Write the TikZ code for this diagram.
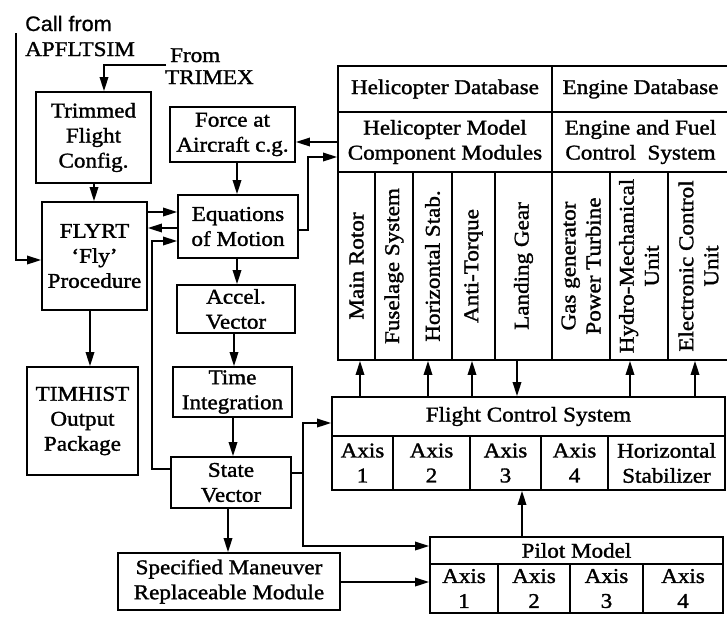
\documentclass[tikz,border=0pt]{standalone}
\usepackage{fontspec}
\setmainfont{Liberation Serif}[FakeStretch=1.1,FakeBold=1.4]
\newfontfamily\callfont{Liberation Sans}[FakeStretch=1.03,FakeBold=0.8]
\usetikzlibrary{arrows.meta}
\begin{document}
\begin{tikzpicture}[x=1pt,y=-1pt,
  txt/.style={font=\fontsize{21}{25}\selectfont},
  blk/.style={txt, draw, line width=1.8pt, align=center, inner sep=0pt},
  vcell/.style={blk, rotate=90, minimum width=188, minimum height=#1},
  lbl/.style={txt, inner sep=0pt, anchor=base west},
  conn/.style={line width=1.8pt},
  arr/.style={conn, -{Triangle[length=14pt,width=8.5pt]}},
]
\fill[white] (0,0) rectangle (727,619);
\useasboundingbox (0,0) rectangle (727,619);

% free labels
\node[lbl, font=\callfont\fontsize{21}{25}\selectfont] (callfrom) at (25,31) {Call from};
\node[lbl] (apf) at (25,56) {APFLTSIM};
\node[lbl] (from) at (170,62) {From};
\node[lbl] (trimex) at (165,84) {TRIMEX};
\coordinate (callstart) at (16,33);
\coordinate (trimexstart) at (166,65);

% left column blocks
\node[blk, minimum width=115, minimum height=91] (trim) at (93.5,137.5) {Trimmed\\Flight\\Config.};
\node[blk, minimum width=105, minimum height=108] (flyrt) at (94.5,256) {FLYRT\\`Fly'\\Procedure};
\node[blk, minimum width=111, minimum height=108] (timhist) at (82.5,421) {TIMHIST\\Output\\Package};

% middle column blocks
\node[blk, minimum width=125, minimum height=55] (force) at (232.5,134.5) {Force at\\Aircraft c.g.};
\node[blk, minimum width=120, minimum height=63] (eqm) at (238,226.5) {Equations\\of Motion};
\node[blk, minimum width=118, minimum height=48] (accel) at (236,309) {Accel.\\Vector};
\node[blk, minimum width=119, minimum height=50] (timeint) at (232.5,392) {Time\\Integration};
\node[blk, minimum width=120, minimum height=51] (state) at (231,482.5) {State\\Vector};
\node[blk, minimum width=222, minimum height=57] (spec) at (229,581.5) {Specified Maneuver\\Replaceable Module};

% database table
\node[blk, minimum width=214, minimum height=46] (hdb) at (445,89) {Helicopter Database};
\node[blk, minimum width=177, minimum height=46] (edb) at (640.5,89) {Engine Database};
\node[blk, minimum width=214, minimum height=60] (hmc) at (445,142) {Helicopter Model\\Component Modules};
\node[blk, minimum width=177, minimum height=60] (efc) at (640.5,142) {Engine and Fuel\\Control~ System};
\node[vcell=37] (c1) at (356.5,266) {Main Rotor};
\node[vcell=38] (c2) at (394,266) {Fuselage System};
\node[vcell=39] (c3) at (432.5,266) {Horizontal Stab.};
\node[vcell=43] (c4) at (473.5,266) {Anti-Torque};
\node[vcell=57] (c5) at (523.5,266) {Landing Gear};
\node[vcell=58] (c6) at (581,266) {Gas generator\\Power Turbine};
\node[vcell=58] (c7) at (639,266) {Hydro-Mechanical\\Unit};
\node[vcell=61] (c8) at (698.5,266) {Electronic Control\\Unit};

% flight control system
\node[blk, minimum width=393, minimum height=39] (ft) at (528.5,416.5) {Flight Control System};
\node[blk, minimum width=61, minimum height=54] (fa1) at (362.5,463) {Axis\\1};
\node[blk, minimum width=77, minimum height=54] (fa2) at (431.5,463) {Axis\\2};
\node[blk, minimum width=71, minimum height=54] (fa3) at (505.5,463) {Axis\\3};
\node[blk, minimum width=67, minimum height=54] (fa4) at (574.5,463) {Axis\\4};
\node[blk, minimum width=117, minimum height=54] (fa5) at (666.5,463) {Horizontal\\Stabilizer};

% pilot model
\node[blk, minimum width=293, minimum height=27] (pt) at (576.5,550.5) {Pilot Model};
\node[blk, minimum width=68, minimum height=49] (pa1) at (464,588.5) {Axis\\1};
\node[blk, minimum width=72, minimum height=49] (pa2) at (534,588.5) {Axis\\2};
\node[blk, minimum width=73, minimum height=49] (pa3) at (606.5,588.5) {Axis\\3};
\node[blk, minimum width=80, minimum height=49] (pa4) at (683,588.5) {Axis\\4};

% connectors
\draw[arr] (callstart) |- (flyrt.west |- 0,260);
\draw[arr] (trimexstart) -| (trim.north -| 104,0);
\draw[arr] (trim.south -| 94,0) -- (flyrt.north -| 94,0);
\draw[arr] (flyrt.south -| 90,0) -- (timhist.north -| 90,0);
\draw[arr] (flyrt.east |- 0,212) -- (eqm.west |- 0,212);
\draw[arr] (eqm.west |- 0,228) -- (flyrt.east |- 0,228);
\draw[arr] (state.west |- 0,469) -| (152,241) -- (eqm.west |- 0,241);
\draw[arr] (force.south -| 237,0) -- (eqm.north -| 237,0);
\draw[arr] (eqm.south -| 237,0) -- (accel.north -| 237,0);
\draw[arr] (accel.south -| 234,0) -- (timeint.north -| 234,0);
\draw[arr] (timeint.south -| 233,0) -- (state.north -| 233,0);
\draw[arr] (state.south -| 228,0) -- (spec.north -| 228,0);
\draw[arr] (hmc.west |- 0,142) -- (force.east |- 0,142);
\draw[arr] (eqm.east |- 0,230) -| (308,157) -- (hmc.west |- 0,157);
\draw[conn] (state.east |- 0,473) -- (303,473) coordinate (split);
\draw[arr] (split) |- (ft.west |- 0,423);
\draw[arr] (split) |- (pt.west |- 0,546);
\draw[arr] (spec.east |- 0,582) -- (pa1.west |- 0,582);
\draw[arr] (pt.north -| 522,0) -- (fa3.south -| 522,0);
\draw[arr] (ft.north -| 360,0) -- (c1.west -| 360,0);
\draw[arr] (ft.north -| 428,0) -- (c3.west -| 428,0);
\draw[arr] (ft.north -| 472,0) -- (c4.west -| 472,0);
\draw[arr] (c5.west -| 517,0) -- (ft.north -| 517,0);
\draw[arr] (ft.north -| 630,0) -- (c7.west -| 630,0);
\draw[arr] (ft.north -| 695,0) -- (c8.west -| 695,0);
\end{tikzpicture}
\end{document}
